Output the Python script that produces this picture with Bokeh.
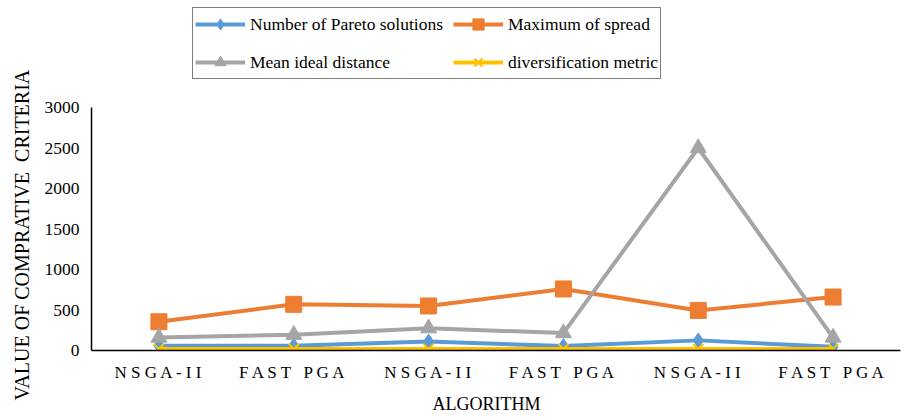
from bokeh.plotting import figure
from bokeh.models import Legend, FixedTicker, Range1d, Title
from bokeh.embed import file_html
from bokeh.resources import INLINE

# Algorithms compared on the x axis (two per experiment)
algorithms = ["NSGA-II", "FAST PGA", "NSGA-II", "FAST PGA", "NSGA-II", "FAST PGA"]

# Comparative criteria per algorithm run
pareto_solutions = [60, 60, 110, 55, 125, 45]
max_spread = [355, 570, 550, 760, 495, 660]
mean_ideal_distance = [160, 195, 275, 215, 2500, 160]
diversification = [20, 20, 20, 20, 20, 20]

y_ticks = [0, 500, 1000, 1500, 2000, 2500, 3000]

FONT = "Liberation Serif"
NBSP = "\u00a0"

positions = list(range(1, len(algorithms) + 1))

# plot frame: runs to the top edge, value axis stops at the top tick,
# leaving room above it for the legend
FRAME_H = 350
AXIS_TOP_PX = 107
y_top = y_ticks[-1] * FRAME_H / (FRAME_H - AXIS_TOP_PX)


def spaced(label):
    # letter-spaced category label, wider gap between words
    return (" " + NBSP + " ").join(" ".join(word) for word in label.split(" "))


p = figure(
    width=904, height=420,
    output_backend="svg", toolbar_location=None,
    x_range=Range1d(0.5, len(algorithms) + 0.5),
    y_range=Range1d(0, y_top),
    min_border_left=90, min_border_right=4,
    min_border_top=0, min_border_bottom=420 - FRAME_H,
)
p.outline_line_color = None
p.xgrid.visible = False
p.ygrid.visible = False

series = [
    ("Number of Pareto solutions", pareto_solutions, "#5B9BD5", "diamond", 15),
    ("Maximum of spread", max_spread, "#ED7D31", "square", 16),
    ("Mean ideal distance", mean_ideal_distance, "#A5A5A5", "triangle", 16),
    ("diversification metric", diversification, "#FFC000", "x", 14),
]

items = {}
for name, values, color, marker, size in series:
    ln = p.line(positions, values, line_color=color, line_width=4)
    if marker == "x":
        mk = p.scatter(positions, values, marker="x", size=size,
                       line_color=color, line_width=2)
    else:
        mk = p.scatter(positions, values, marker=marker, size=size,
                       fill_color=color, line_color=color)
    items[name] = [ln, mk]

# axes
p.xaxis.ticker = FixedTicker(ticks=positions)
p.xaxis.major_label_overrides = {i: spaced(a) for i, a in zip(positions, algorithms)}
p.yaxis.ticker = FixedTicker(ticks=y_ticks)
p.yaxis.bounds = (y_ticks[0], y_ticks[-1])

for ax in (p.xaxis[0], p.yaxis[0]):
    ax.axis_line_color = "black"
    ax.axis_line_width = 1.5
    ax.major_tick_line_color = None
    ax.minor_tick_line_color = None
    ax.major_tick_out = 0
    ax.major_tick_in = 0
    ax.major_label_text_font = FONT
    ax.major_label_text_font_size = "17px"
    ax.major_label_text_color = "black"

p.yaxis.major_label_text_font_size = "17.5px"
p.yaxis.major_label_standoff = 12
p.xaxis.major_label_standoff = 12

# axis titles
y_title = Title(
    text="VALUE OF COMPRATIVE " + NBSP + "CRITERIA",
    align="left",
    offset=-50,
    standoff=17,
    text_font=FONT,
    text_font_size="20px",
    text_font_style="normal",
    text_color="black",
)
p.add_layout(y_title, "left")

x_title = Title(
    text="ALGORITHM",
    align="left",
    offset=341,
    standoff=14,
    text_font=FONT,
    text_font_size="18px",
    text_font_style="normal",
    text_color="black",
)
p.add_layout(x_title, "below")

# legend is filled column by column: two rows of two entries
legend_order = ["Number of Pareto solutions", "Mean ideal distance",
                "Maximum of spread", "diversification metric"]
legend = Legend(
    items=[(name, items[name]) for name in legend_order],
    ncols=2,
    location=(101, FRAME_H - 79),
    label_text_font=FONT,
    label_text_font_size="17.5px",
    label_text_color="black",
    glyph_width=50,
    glyph_height=28,
    label_height=28,
    label_standoff=5,
    spacing=10,
    padding=2,
    margin=0,
    border_line_color="black",
    border_line_width=1.5,
    background_fill_alpha=1,
)
p.add_layout(legend, "center")

open("out.html", "w").write(file_html(p, INLINE))
